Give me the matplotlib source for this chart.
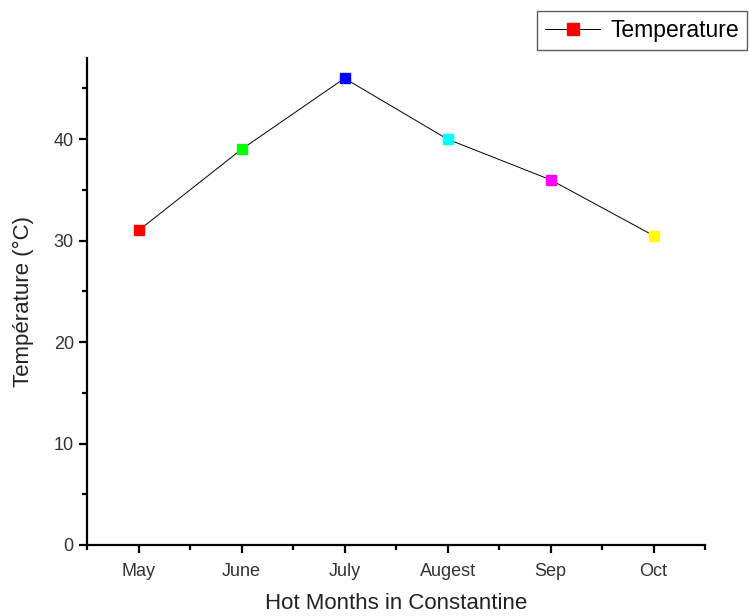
import matplotlib
matplotlib.use('Agg')
import matplotlib.pyplot as plt
from matplotlib.ticker import MultipleLocator

plt.rcParams['font.family'] = ['Liberation Sans', 'DejaVu Sans']

months = ['May', 'June', 'July', 'Augest', 'Sep', 'Oct']
temps = [31, 39, 46, 40, 36, 30.5]
marker_colors = ['#ff0000', '#00ff00', '#0000ff', '#00ffff', '#ff00ff', '#ffff00']

fig = plt.figure(figsize=(7.49, 6.16), dpi=100)
ax = fig.add_axes([0.1162, 0.1153, 0.8251, 0.7905])

x = list(range(1, len(months) + 1))
ax.plot(x, temps, color='black', linewidth=0.7, zorder=2)
for xi, yi, c in zip(x, temps, marker_colors):
    ax.plot(xi, yi, marker='s', markersize=6.5, color=c, linestyle='none', zorder=3)

ax.set_xlim(0.5, 6.5)
ax.set_ylim(0, 48)
ax.set_xticks(x)
ax.set_xticklabels(months)
ax.xaxis.set_minor_locator(MultipleLocator(1, offset=0.5))
ax.yaxis.set_major_locator(MultipleLocator(10))
ax.yaxis.set_minor_locator(MultipleLocator(5))

for s in ['top', 'right']:
    ax.spines[s].set_visible(False)
for s in ['left', 'bottom']:
    ax.spines[s].set_linewidth(1.6)

ax.tick_params(axis='both', which='major', direction='out', length=6, width=1.6,
               labelsize=13, colors='black', labelcolor='#333333')
ax.tick_params(axis='both', which='minor', direction='out', length=3.5, width=1.6)
ax.tick_params(axis='x', pad=7)

ax.set_xlabel('Hot Months in Constantine', fontsize=16, color='#222222', labelpad=9)
ax.set_ylabel('Température (°C)', fontsize=16, color='#222222', labelpad=14)

# legend entry: line with red square
handle, = ax.plot([], [], color='black', linewidth=0.7, marker='s',
                  markersize=8, markerfacecolor='#ff0000', markeredgecolor='#ff0000')
leg = fig.legend([handle], ['Temperature'], loc='upper left',
                 bbox_to_anchor=(537 / 749, 1 - 11 / 616), fontsize=16.5,
                 frameon=True, fancybox=False, handlelength=2.4,
                 borderpad=0.35, handletextpad=0.45, borderaxespad=0)
leg.get_frame().set_edgecolor('#333333')
leg.get_frame().set_linewidth(1.0)

plt.savefig('out.png', dpi=100)
plt.close(fig)
